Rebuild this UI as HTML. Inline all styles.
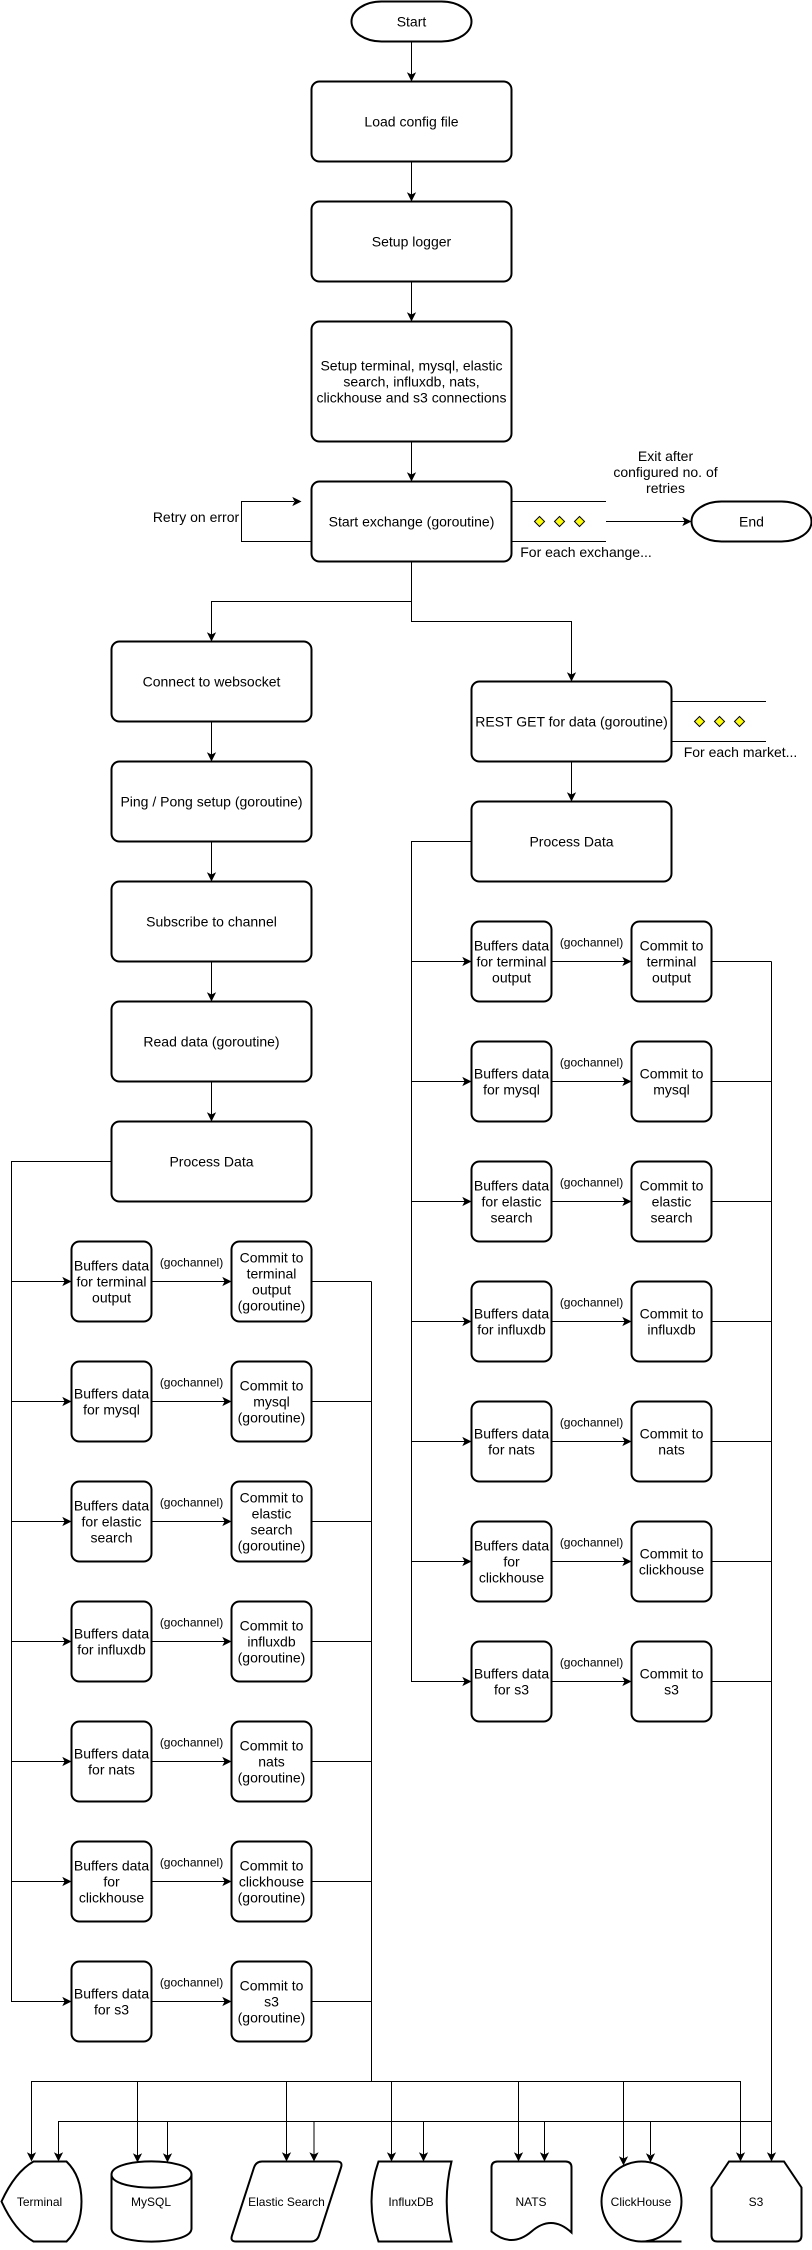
<!DOCTYPE html>
<html>
<head>
<meta charset="utf-8">
<style>
html,body{margin:0;padding:0;background:#fff}
svg{display:block}
text{font-family:"Liberation Sans",sans-serif;font-size:14px;fill:#000;text-anchor:middle}
.s{font-size:12px}
.b{fill:#fff;stroke:#000;stroke-width:2}
</style>
</head>
<body>
<svg xmlns="http://www.w3.org/2000/svg" width="812" height="2250" viewBox="0 0 812 2250">
<defs>
<path id="d" d="M0 -1.12 L-3.5 -8.12 L0 -6.37 L3.5 -8.12 Z" fill="#000" stroke="#000" stroke-width="1"/>
<path id="r" d="M-1.12 0 L-8.12 -3.5 L-6.37 0 L-8.12 3.5 Z" fill="#000" stroke="#000" stroke-width="1"/>
</defs>
<rect width="812" height="2250" fill="#fff"/>
<g fill="none" stroke="#000" stroke-width="1">
<path d="M411.5 41.5V76M411.5 161.5V196M411.5 281.5V316M411.5 441.5V476"/>
<path d="M311.5 541.5H241.5V501.5H294"/>
<path d="M511.5 501.5H606M511.5 541.5H606M606 521.5H686"/>
<path d="M411.5 561.5V601.5H211.5V636M411.5 601.5V621.5H571.5V676"/>
<path d="M671.5 701.5H766M671.5 741.5H766"/>
<path d="M211.5 721.5V756M211.5 841.5V876M211.5 961.5V996M211.5 1081.5V1116M571.5 761.5V796"/>
<path d="M111.5 1161.5H11.5V2001.5H66M11.5 1281.5H66M11.5 1401.5H66M11.5 1521.5H66M11.5 1641.5H66M11.5 1761.5H66M11.5 1881.5H66"/>
<path d="M151.5 1281.5H226M151.5 1401.5H226M151.5 1521.5H226M151.5 1641.5H226M151.5 1761.5H226M151.5 1881.5H226M151.5 2001.5H226"/>
<path d="M311.5 1281.5H371.5M311.5 1401.5H371.5M311.5 1521.5H371.5M311.5 1641.5H371.5M311.5 1761.5H371.5M311.5 1881.5H371.5M311.5 2001.5H371.5M371.5 1281.5V2081.5"/>
<path d="M471.5 841.5H411.5V1681.5H466M411.5 961.5H466M411.5 1081.5H466M411.5 1201.5H466M411.5 1321.5H466M411.5 1441.5H466M411.5 1561.5H466"/>
<path d="M551.5 961.5H626M551.5 1081.5H626M551.5 1201.5H626M551.5 1321.5H626M551.5 1441.5H626M551.5 1561.5H626M551.5 1681.5H626"/>
<path d="M711.5 961.5H771.5M711.5 1081.5H771.5M711.5 1201.5H771.5M711.5 1321.5H771.5M711.5 1441.5H771.5M711.5 1561.5H771.5M711.5 1681.5H771.5M771.5 961.5V2155"/>
<path d="M31.5 2155V2081.5H740.5V2155M137.5 2081.5V2156M286.5 2081.5V2155M391.5 2081.5V2155M518.5 2081.5V2155M623.5 2081.5V2159"/>
<path d="M58.5 2155V2121.5H771.5M167.5 2121.5V2156M423.5 2121.5V2155M544.5 2121.5V2155M650.5 2121.5V2155"/>
<path d="M314 2121.5V2155"/>
</g>
<use href="#d" x="411.5" y="81.5"/><use href="#d" x="411.5" y="201.5"/><use href="#d" x="411.5" y="321.5"/><use href="#d" x="411.5" y="481.5"/>
<use href="#r" x="301.5" y="501.5"/><use href="#r" x="691.5" y="521.5"/>
<use href="#d" x="211.5" y="641.5"/><use href="#d" x="571.5" y="681.5"/>
<use href="#d" x="211.5" y="761.5"/><use href="#d" x="211.5" y="881.5"/><use href="#d" x="211.5" y="1001.5"/><use href="#d" x="211.5" y="1121.5"/><use href="#d" x="571.5" y="801.5"/>
<use href="#r" x="71.5" y="1281.5"/><use href="#r" x="71.5" y="1401.5"/><use href="#r" x="71.5" y="1521.5"/><use href="#r" x="71.5" y="1641.5"/><use href="#r" x="71.5" y="1761.5"/><use href="#r" x="71.5" y="1881.5"/><use href="#r" x="71.5" y="2001.5"/>
<use href="#r" x="231.5" y="1281.5"/><use href="#r" x="231.5" y="1401.5"/><use href="#r" x="231.5" y="1521.5"/><use href="#r" x="231.5" y="1641.5"/><use href="#r" x="231.5" y="1761.5"/><use href="#r" x="231.5" y="1881.5"/><use href="#r" x="231.5" y="2001.5"/>
<use href="#r" x="471.5" y="961.5"/><use href="#r" x="471.5" y="1081.5"/><use href="#r" x="471.5" y="1201.5"/><use href="#r" x="471.5" y="1321.5"/><use href="#r" x="471.5" y="1441.5"/><use href="#r" x="471.5" y="1561.5"/><use href="#r" x="471.5" y="1681.5"/>
<use href="#r" x="631.5" y="961.5"/><use href="#r" x="631.5" y="1081.5"/><use href="#r" x="631.5" y="1201.5"/><use href="#r" x="631.5" y="1321.5"/><use href="#r" x="631.5" y="1441.5"/><use href="#r" x="631.5" y="1561.5"/><use href="#r" x="631.5" y="1681.5"/>
<use href="#d" x="31.5" y="2161.5"/><use href="#d" x="58.5" y="2161.5"/><use href="#d" x="137.5" y="2162.5"/><use href="#d" x="167.5" y="2162.5"/><use href="#d" x="286.5" y="2161.5"/><use href="#d" x="314" y="2161.5"/><use href="#d" x="391.5" y="2161.5"/><use href="#d" x="423.5" y="2161.5"/><use href="#d" x="518.5" y="2161.5"/><use href="#d" x="544.5" y="2161.5"/><use href="#d" x="623.5" y="2165.5"/><use href="#d" x="650.5" y="2162.5"/><use href="#d" x="740.5" y="2161.5"/><use href="#d" x="771.5" y="2161.5"/>

<rect class="b" x="351.5" y="1.5" width="120" height="40" rx="30" ry="20"/>
<rect class="b" x="691.5" y="501.5" width="120" height="40" rx="30" ry="20"/>
<rect class="b" x="311.5" y="81.5" width="200" height="80" rx="8"/>
<rect class="b" x="311.5" y="201.5" width="200" height="80" rx="8"/>
<rect class="b" x="311.5" y="321.5" width="200" height="120" rx="8"/>
<rect class="b" x="311.5" y="481.5" width="200" height="80" rx="8"/>
<rect class="b" x="111.5" y="641.5" width="200" height="80" rx="8"/>
<rect class="b" x="111.5" y="761.5" width="200" height="80" rx="8"/>
<rect class="b" x="111.5" y="881.5" width="200" height="80" rx="8"/>
<rect class="b" x="111.5" y="1001.5" width="200" height="80" rx="8"/>
<rect class="b" x="111.5" y="1121.5" width="200" height="80" rx="8"/>
<rect class="b" x="471.5" y="681.5" width="200" height="80" rx="8"/>
<rect class="b" x="471.5" y="801.5" width="200" height="80" rx="8"/>

<g class="b">
<rect class="b" x="71.5" y="1241.5" width="80" height="80" rx="8"/><rect class="b" x="231.5" y="1241.5" width="80" height="80" rx="8"/>
<rect class="b" x="71.5" y="1361.5" width="80" height="80" rx="8"/><rect class="b" x="231.5" y="1361.5" width="80" height="80" rx="8"/>
<rect class="b" x="71.5" y="1481.5" width="80" height="80" rx="8"/><rect class="b" x="231.5" y="1481.5" width="80" height="80" rx="8"/>
<rect class="b" x="71.5" y="1601.5" width="80" height="80" rx="8"/><rect class="b" x="231.5" y="1601.5" width="80" height="80" rx="8"/>
<rect class="b" x="71.5" y="1721.5" width="80" height="80" rx="8"/><rect class="b" x="231.5" y="1721.5" width="80" height="80" rx="8"/>
<rect class="b" x="71.5" y="1841.5" width="80" height="80" rx="8"/><rect class="b" x="231.5" y="1841.5" width="80" height="80" rx="8"/>
<rect class="b" x="71.5" y="1961.5" width="80" height="80" rx="8"/><rect class="b" x="231.5" y="1961.5" width="80" height="80" rx="8"/>
<rect class="b" x="471.5" y="921.5" width="80" height="80" rx="8"/><rect class="b" x="631.5" y="921.5" width="80" height="80" rx="8"/>
<rect class="b" x="471.5" y="1041.5" width="80" height="80" rx="8"/><rect class="b" x="631.5" y="1041.5" width="80" height="80" rx="8"/>
<rect class="b" x="471.5" y="1161.5" width="80" height="80" rx="8"/><rect class="b" x="631.5" y="1161.5" width="80" height="80" rx="8"/>
<rect class="b" x="471.5" y="1281.5" width="80" height="80" rx="8"/><rect class="b" x="631.5" y="1281.5" width="80" height="80" rx="8"/>
<rect class="b" x="471.5" y="1401.5" width="80" height="80" rx="8"/><rect class="b" x="631.5" y="1401.5" width="80" height="80" rx="8"/>
<rect class="b" x="471.5" y="1521.5" width="80" height="80" rx="8"/><rect class="b" x="631.5" y="1521.5" width="80" height="80" rx="8"/>
<rect class="b" x="471.5" y="1641.5" width="80" height="80" rx="8"/><rect class="b" x="631.5" y="1641.5" width="80" height="80" rx="8"/>
</g>

<g fill="#ff0" stroke="#000" stroke-width="1">
<path d="M539.5 516.5l5 5l-5 5l-5 -5Z"/><path d="M559.5 516.5l5 5l-5 5l-5 -5Z"/><path d="M579.5 516.5l5 5l-5 5l-5 -5Z"/>
<path d="M699.5 716.5l5 5l-5 5l-5 -5Z"/><path d="M719.5 716.5l5 5l-5 5l-5 -5Z"/><path d="M739.5 716.5l5 5l-5 5l-5 -5Z"/>
</g>

<!-- data stores -->
<path class="b" d="M1.5 2201.5Q15 2172 33.5 2161.5H66.5Q81.5 2176 81.5 2201.5Q81.5 2227 66.5 2241.5H33.5Q15 2231 1.5 2201.5Z"/>
<path class="b" d="M111.5 2174.5C111.5 2157 191.5 2157 191.5 2174.5V2228.5C191.5 2246 111.5 2246 111.5 2228.5ZM111.5 2174.5C111.5 2192 191.5 2192 191.5 2174.5"/>
<path class="b" d="M262 2161.5H337Q343 2161.5 341 2167.5L319 2235.5Q317 2241.5 311 2241.5H236Q230 2241.5 232 2235.5L254 2167.5Q256 2161.5 262 2161.5Z"/>
<path class="b" d="M378.5 2161.5H451.5Q441.9 2201.5 451.5 2241.5H378.5Q364.5 2201.5 378.5 2161.5Z"/>
<path class="b" d="M497.5 2161.5H565.5Q571.5 2161.5 571.5 2167.5V2232.5Q551.5 2214 531.5 2231.5Q511.5 2248.5 491.5 2231.5V2167.5Q491.5 2161.5 497.5 2161.5Z"/>
<circle class="b" cx="641.5" cy="2201.5" r="40"/>
<path d="M641.5 2241.5H681.5" fill="none" stroke="#000" stroke-width="2"/>
<path class="b" d="M729 2161.5H784L801.5 2187.5V2235.5Q801.5 2241.5 795.5 2241.5H717.5Q711.5 2241.5 711.5 2235.5V2187.5Z"/>

<!-- labels -->
<text x="411.5" y="26.5">Start</text>
<text x="411.5" y="126.5">Load config file</text>
<text x="411.5" y="246.5">Setup logger</text>
<text x="411.5" y="370.5">Setup terminal, mysql, elastic</text>
<text x="411.5" y="386.5">search, influxdb, nats,</text>
<text x="411.5" y="402.5">clickhouse and s3 connections</text>
<text x="411.5" y="526.5">Start exchange (goroutine)</text>
<text x="751.5" y="526.5">End</text>
<text x="196" y="522">Retry on error</text>
<text x="665.5" y="461">Exit after</text>
<text x="665.5" y="477">configured no. of</text>
<text x="665.5" y="493">retries</text>
<text x="586" y="557">For each exchange...</text>
<text x="740.5" y="757">For each market...</text>
<text x="211.5" y="686.5">Connect to websocket</text>
<text x="211.5" y="806.5">Ping / Pong setup (goroutine)</text>
<text x="211.5" y="926.5">Subscribe to channel</text>
<text x="211.5" y="1046.5">Read data (goroutine)</text>
<text x="211.5" y="1166.5">Process Data</text>
<text x="571.5" y="726.5">REST GET for data (goroutine)</text>
<text x="571.5" y="846.5">Process Data</text>

<text x="111.5" y="1270.5">Buffers data</text><text x="111.5" y="1286.5">for terminal</text><text x="111.5" y="1302.5">output</text>
<text x="271.5" y="1262.5">Commit to</text><text x="271.5" y="1278.5">terminal</text><text x="271.5" y="1294.5">output</text><text x="271.5" y="1310.5">(goroutine)</text>
<text x="111.5" y="1398.5">Buffers data</text><text x="111.5" y="1414.5">for mysql</text>
<text x="271.5" y="1390.5">Commit to</text><text x="271.5" y="1406.5">mysql</text><text x="271.5" y="1422.5">(goroutine)</text>
<text x="111.5" y="1510.5">Buffers data</text><text x="111.5" y="1526.5">for elastic</text><text x="111.5" y="1542.5">search</text>
<text x="271.5" y="1502.5">Commit to</text><text x="271.5" y="1518.5">elastic</text><text x="271.5" y="1534.5">search</text><text x="271.5" y="1550.5">(goroutine)</text>
<text x="111.5" y="1638.5">Buffers data</text><text x="111.5" y="1654.5">for influxdb</text>
<text x="271.5" y="1630.5">Commit to</text><text x="271.5" y="1646.5">influxdb</text><text x="271.5" y="1662.5">(goroutine)</text>
<text x="111.5" y="1758.5">Buffers data</text><text x="111.5" y="1774.5">for nats</text>
<text x="271.5" y="1750.5">Commit to</text><text x="271.5" y="1766.5">nats</text><text x="271.5" y="1782.5">(goroutine)</text>
<text x="111.5" y="1870.5">Buffers data</text><text x="111.5" y="1886.5">for</text><text x="111.5" y="1902.5">clickhouse</text>
<text x="271.5" y="1870.5">Commit to</text><text x="271.5" y="1886.5">clickhouse</text><text x="271.5" y="1902.5">(goroutine)</text>
<text x="111.5" y="1998.5">Buffers data</text><text x="111.5" y="2014.5">for s3</text>
<text x="271.5" y="1990.5">Commit to</text><text x="271.5" y="2006.5">s3</text><text x="271.5" y="2022.5">(goroutine)</text>

<text x="511.5" y="950.5">Buffers data</text><text x="511.5" y="966.5">for terminal</text><text x="511.5" y="982.5">output</text>
<text x="671.5" y="950.5">Commit to</text><text x="671.5" y="966.5">terminal</text><text x="671.5" y="982.5">output</text>
<text x="511.5" y="1078.5">Buffers data</text><text x="511.5" y="1094.5">for mysql</text>
<text x="671.5" y="1078.5">Commit to</text><text x="671.5" y="1094.5">mysql</text>
<text x="511.5" y="1190.5">Buffers data</text><text x="511.5" y="1206.5">for elastic</text><text x="511.5" y="1222.5">search</text>
<text x="671.5" y="1190.5">Commit to</text><text x="671.5" y="1206.5">elastic</text><text x="671.5" y="1222.5">search</text>
<text x="511.5" y="1318.5">Buffers data</text><text x="511.5" y="1334.5">for influxdb</text>
<text x="671.5" y="1318.5">Commit to</text><text x="671.5" y="1334.5">influxdb</text>
<text x="511.5" y="1438.5">Buffers data</text><text x="511.5" y="1454.5">for nats</text>
<text x="671.5" y="1438.5">Commit to</text><text x="671.5" y="1454.5">nats</text>
<text x="511.5" y="1550.5">Buffers data</text><text x="511.5" y="1566.5">for</text><text x="511.5" y="1582.5">clickhouse</text>
<text x="671.5" y="1558.5">Commit to</text><text x="671.5" y="1574.5">clickhouse</text>
<text x="511.5" y="1678.5">Buffers data</text><text x="511.5" y="1694.5">for s3</text>
<text x="671.5" y="1678.5">Commit to</text><text x="671.5" y="1694.5">s3</text>

<text class="s" x="191.5" y="1266.5">(gochannel)</text>
<text class="s" x="191.5" y="1386.5">(gochannel)</text>
<text class="s" x="191.5" y="1506.5">(gochannel)</text>
<text class="s" x="191.5" y="1626.5">(gochannel)</text>
<text class="s" x="191.5" y="1746.5">(gochannel)</text>
<text class="s" x="191.5" y="1866.5">(gochannel)</text>
<text class="s" x="191.5" y="1986.5">(gochannel)</text>
<text class="s" x="591.5" y="946.5">(gochannel)</text>
<text class="s" x="591.5" y="1066.5">(gochannel)</text>
<text class="s" x="591.5" y="1186.5">(gochannel)</text>
<text class="s" x="591.5" y="1306.5">(gochannel)</text>
<text class="s" x="591.5" y="1426.5">(gochannel)</text>
<text class="s" x="591.5" y="1546.5">(gochannel)</text>
<text class="s" x="591.5" y="1666.5">(gochannel)</text>

<text class="s" x="39.5" y="2206">Terminal</text>
<text class="s" x="151" y="2206">MySQL</text>
<text class="s" x="286.5" y="2206">Elastic Search</text>
<text class="s" x="411" y="2206">InfluxDB</text>
<text class="s" x="531" y="2206">NATS</text>
<text class="s" x="641" y="2206">ClickHouse</text>
<text class="s" x="756" y="2206">S3</text>
</svg>
</body>
</html>
